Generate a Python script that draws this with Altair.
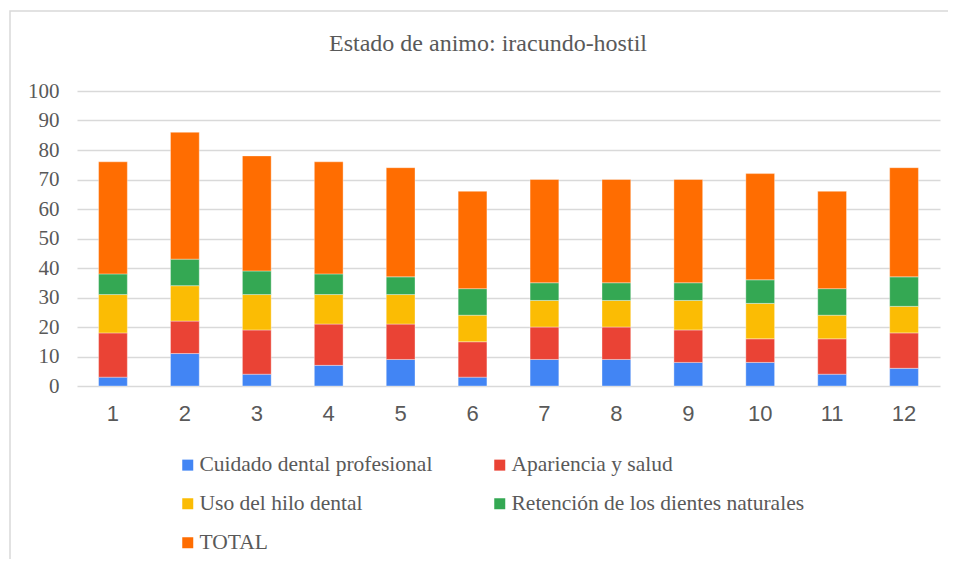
import altair as alt
import pandas as pd

title_text = "Estado de animo: iracundo-hostil"
categories = [str(i) for i in range(1, 13)]
series_names = ["Cuidado dental profesional", "Apariencia y salud", "Uso del hilo dental",
                "Retención de los dientes naturales", "TOTAL"]
cuidado = [3, 11, 4, 7, 9, 3, 9, 9, 8, 8, 4, 6]
apariencia = [15, 11, 15, 14, 12, 12, 11, 11, 11, 8, 12, 12]
hilo = [13, 12, 12, 10, 10, 9, 9, 9, 10, 12, 8, 9]
retencion = [7, 9, 8, 7, 6, 9, 6, 6, 6, 8, 9, 10]
total = [38, 43, 39, 38, 37, 33, 35, 35, 35, 36, 33, 37]
colors = ["#4285F4", "#EA4335", "#FBBC04", "#34A853", "#FF6D01"]

rows = []
for s_i, (name, vals) in enumerate(zip(series_names, [cuidado, apariencia, hilo, retencion, total])):
    for c, v in zip(categories, vals):
        rows.append({"cat": c, "serie": name, "valor": v, "orden": s_i})
df = pd.DataFrame(rows)

# legend fills column by column (3 rows): order so rows read left-to-right
legend_order = [series_names[0], series_names[2], series_names[4], series_names[1], series_names[3]]
legend_colors = [colors[0], colors[2], colors[4], colors[1], colors[3]]

SERIF = "Liberation Serif"
SANS = "Liberation Sans"
GRAY = "#595959"

bars = alt.Chart(df).mark_bar(stroke="white", strokeWidth=0.6, strokeOpacity=0.6).encode(
    x=alt.X("cat:N", sort=categories, title=None,
            scale=alt.Scale(paddingInner=0.6, paddingOuter=0.3),
            axis=alt.Axis(labelAngle=0, labelFont=SANS, labelFontSize=22, labelColor=GRAY,
                          labelPadding=17, ticks=False, domain=False, grid=False)),
    y=alt.Y("valor:Q", stack="zero", title=None,
            scale=alt.Scale(domain=[0, 100], nice=False),
            axis=alt.Axis(values=list(range(0, 101, 10)), labelFont=SERIF, labelFontSize=21,
                          labelColor=GRAY, labelPadding=18, ticks=False, domain=False,
                          grid=True, gridColor="#d9d9d9", gridWidth=1.5)),
    color=alt.Color("serie:N",
                    scale=alt.Scale(domain=legend_order, range=legend_colors),
                    legend=alt.Legend(title=None, orient="none", legendX=100, legendY=363,
                                      columns=2, columnPadding=56, rowPadding=16,
                                      symbolType="square", symbolSize=121, symbolStrokeWidth=0,
                                      labelFont=SERIF, labelFontSize=21.5, labelColor=GRAY,
                                      labelOffset=1, labelLimit=400)),
    order=alt.Order("orden:Q", sort="ascending"),
)

frame = alt.Chart(pd.DataFrame({"f": [0]})).mark_rect(
    fill=None, stroke="#d9d9d9", strokeWidth=1.5).encode(
    x=alt.value(-67), x2=alt.value(1000), y=alt.value(-80), y2=alt.value(600))

title = alt.Chart(pd.DataFrame({"t": [title_text]})).mark_text(
    font=SERIF, fontSize=24, color=GRAY, align="center", baseline="middle").encode(
    text="t:N", x=alt.value(411), y=alt.value(-47))

chart = alt.layer(frame, bars, title).properties(
    width=863, height=295,
    autosize=alt.AutoSizeParams(type="none"),
    padding={"left": 69, "top": 83, "right": 8, "bottom": 173},
).configure_view(stroke=None)

chart.save("out.html", embed_options={"renderer": "svg", "actions": False})
